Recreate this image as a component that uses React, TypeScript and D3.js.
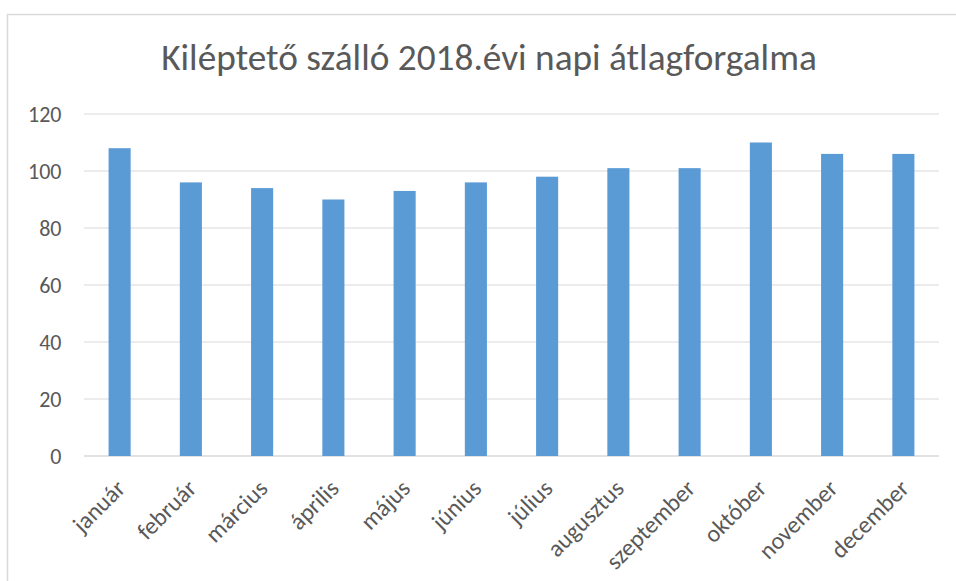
import React, { useEffect, useRef } from "react";
import * as d3 from "d3";

const months = ["január","február","március","április","május","június","július","augusztus","szeptember","október","november","december"];
const values = [108, 96, 94, 90, 93, 96, 98, 101, 101, 110, 106, 106];
const yTicks = [0, 20, 40, 60, 80, 100, 120];
const title = "Kiléptető szálló 2018.évi napi átlagforgalma";

const W = 956, H = 581;
const FONT = "Carlito, 'Open Sans', 'Liberation Sans', sans-serif";

export default function App() {
  const ref = useRef<SVGSVGElement>(null);
  useEffect(() => {
    const svg = d3.select(ref.current);
    svg.selectAll("*").remove();
    const left = 84, right = 939, top = 114, bottom = 456;
    const x = d3.scaleBand().domain(months).range([left, right]).paddingInner(0.69).paddingOuter(0.345);
    const y = d3.scaleLinear().domain([0, 120]).range([bottom, top]);

    svg.append("rect").attr("x", 7.5).attr("y", 14.5).attr("width", 960).attr("height", 600)
      .attr("fill", "white").attr("stroke", "#d9d9d9").attr("stroke-width", 1.5);

    svg.append("text").attr("x", 489).attr("y", 69.5).attr("text-anchor", "middle")
      .attr("font-family", FONT).attr("font-size", 37.3).attr("fill", "#595959").text(title);

    svg.append("g").selectAll("line").data(yTicks).join("line")
      .attr("x1", left).attr("x2", right)
      .attr("y1", d => y(d)).attr("y2", d => y(d))
      .attr("stroke", "#d9d9d9").attr("stroke-width", d => d === 0 ? 1.5 : 1.2);

    svg.append("g").selectAll("text").data(yTicks).join("text")
      .attr("x", 61.5).attr("y", d => y(d) + 7.5).attr("text-anchor", "end")
      .attr("font-family", FONT).attr("font-size", 22).attr("fill", "#595959").text(d => d);

    svg.append("g").selectAll("rect").data(values).join("rect")
      .attr("x", (d, i) => x(months[i])!).attr("width", x.bandwidth())
      .attr("y", d => y(d)).attr("height", d => bottom - y(d))
      .attr("fill", "#5b9bd5");

    svg.append("g").selectAll("text").data(months).join("text")
      .attr("transform", d => `translate(${x(d)! + x.bandwidth() / 2 + 1},${bottom + 28}) rotate(-45)`)
      .attr("text-anchor", "end").attr("dy", "0.35em")
      .attr("font-family", FONT).attr("font-size", 24).attr("fill", "#595959").text(d => d);
  }, []);
  return (
    <svg ref={ref} width={W} height={H} style={{ position: "fixed", left: 0, top: 0, background: "white" }} />
  );
}
